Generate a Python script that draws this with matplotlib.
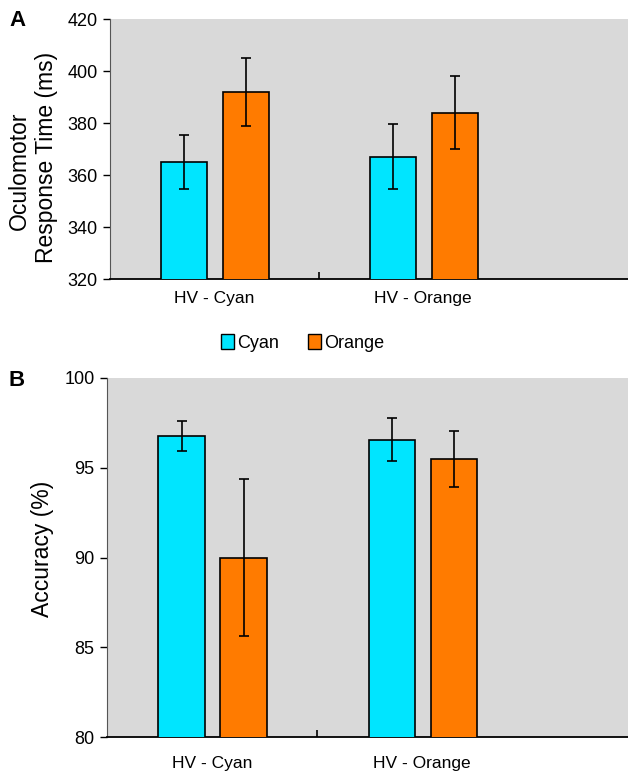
import numpy as np
import matplotlib
matplotlib.use("Agg")
import matplotlib.pyplot as plt
from matplotlib.patches import Patch

plt.rcParams["font.family"] = ["Liberation Sans", "DejaVu Sans"]

categories = ["HV - Cyan", "HV - Orange"]
series = ["Cyan", "Orange"]
colors = ["#00e5ff", "#ff7b00"]

rt_mean = {"Cyan": [365, 367], "Orange": [392, 384]}
rt_err = {"Cyan": [10.5, 12.5], "Orange": [13, 14]}
acc_mean = {"Cyan": [96.75, 96.55], "Orange": [90.0, 95.5]}
acc_err = {"Cyan": [0.83, 1.2], "Orange": [4.35, 1.57]}

W, H = 628, 774
fig = plt.figure(figsize=(W / 100, H / 100), dpi=100)


def px_axes(left, top, right, bottom):
    return fig.add_axes([left / W, 1 - bottom / H, (right - left) / W, (bottom - top) / H])


def px_text(x, y, s, **kw):
    fig.text(x / W, 1 - y / H, s, **kw)


def draw_panel(ax, means, errs, ylim, yticks, xpad):
    x = np.arange(len(categories))
    offs = [-0.145, 0.15]
    for s, off, col in zip(series, offs, colors):
        ax.bar(x + off, means[s], width=0.22, color=col, edgecolor="black",
               linewidth=1.2, zorder=3,
               yerr=errs[s], capsize=3.5,
               error_kw=dict(ecolor="black", elinewidth=1.2, capthick=1.2, zorder=4))
    ax.set_facecolor("#d9d9d9")
    ax.set_ylim(*ylim)
    ax.set_yticks(yticks)
    ax.set_xlim(-0.5, 1.98)
    ax.set_xticks(x)
    ax.set_xticklabels(categories)
    ax.set_xticks([0.5], minor=True)
    ax.tick_params(axis="x", which="major", length=0, pad=xpad, labelsize=12.5)
    ax.tick_params(axis="x", which="minor", direction="in", length=5, width=1.2)
    ax.tick_params(axis="y", direction="out", length=5, width=1, labelsize=13, pad=4)
    for side in ("top", "right"):
        ax.spines[side].set_visible(False)
    ax.spines["bottom"].set_linewidth(1.3)
    ax.spines["left"].set_linewidth(0.8)
    ax.spines["left"].set_color("#555555")


axA = px_axes(110, 19, 628, 279)
draw_panel(axA, rt_mean, rt_err, (320, 420), np.arange(320, 421, 20), 9)

axB = px_axes(107, 378, 628, 737)
draw_panel(axB, acc_mean, acc_err, (80, 100), np.arange(80, 101, 5), 14)

lab = dict(fontsize=16.5, rotation=90, ha="center", va="center")
px_text(19, 171, "Oculomotor", **lab)
px_text(47, 157, "Response Time (ms)", **lab)
px_text(43, 549, "Accuracy (%)", **lab)

px_text(9, 21, "A", fontsize=16, fontweight="bold", va="center")
px_text(9, 380, "B", fontsize=16, fontweight="bold", va="center")

handles = [Patch(facecolor=c, edgecolor="black", linewidth=1.0) for c in colors]
fig.legend(handles, series, loc="center", bbox_to_anchor=(303 / W, 1 - 343 / H),
           ncol=2, frameon=False, fontsize=13, handlelength=0.7, handleheight=0.9,
           handletextpad=0.2, columnspacing=1.6)

fig.savefig("out.png", dpi=100)
